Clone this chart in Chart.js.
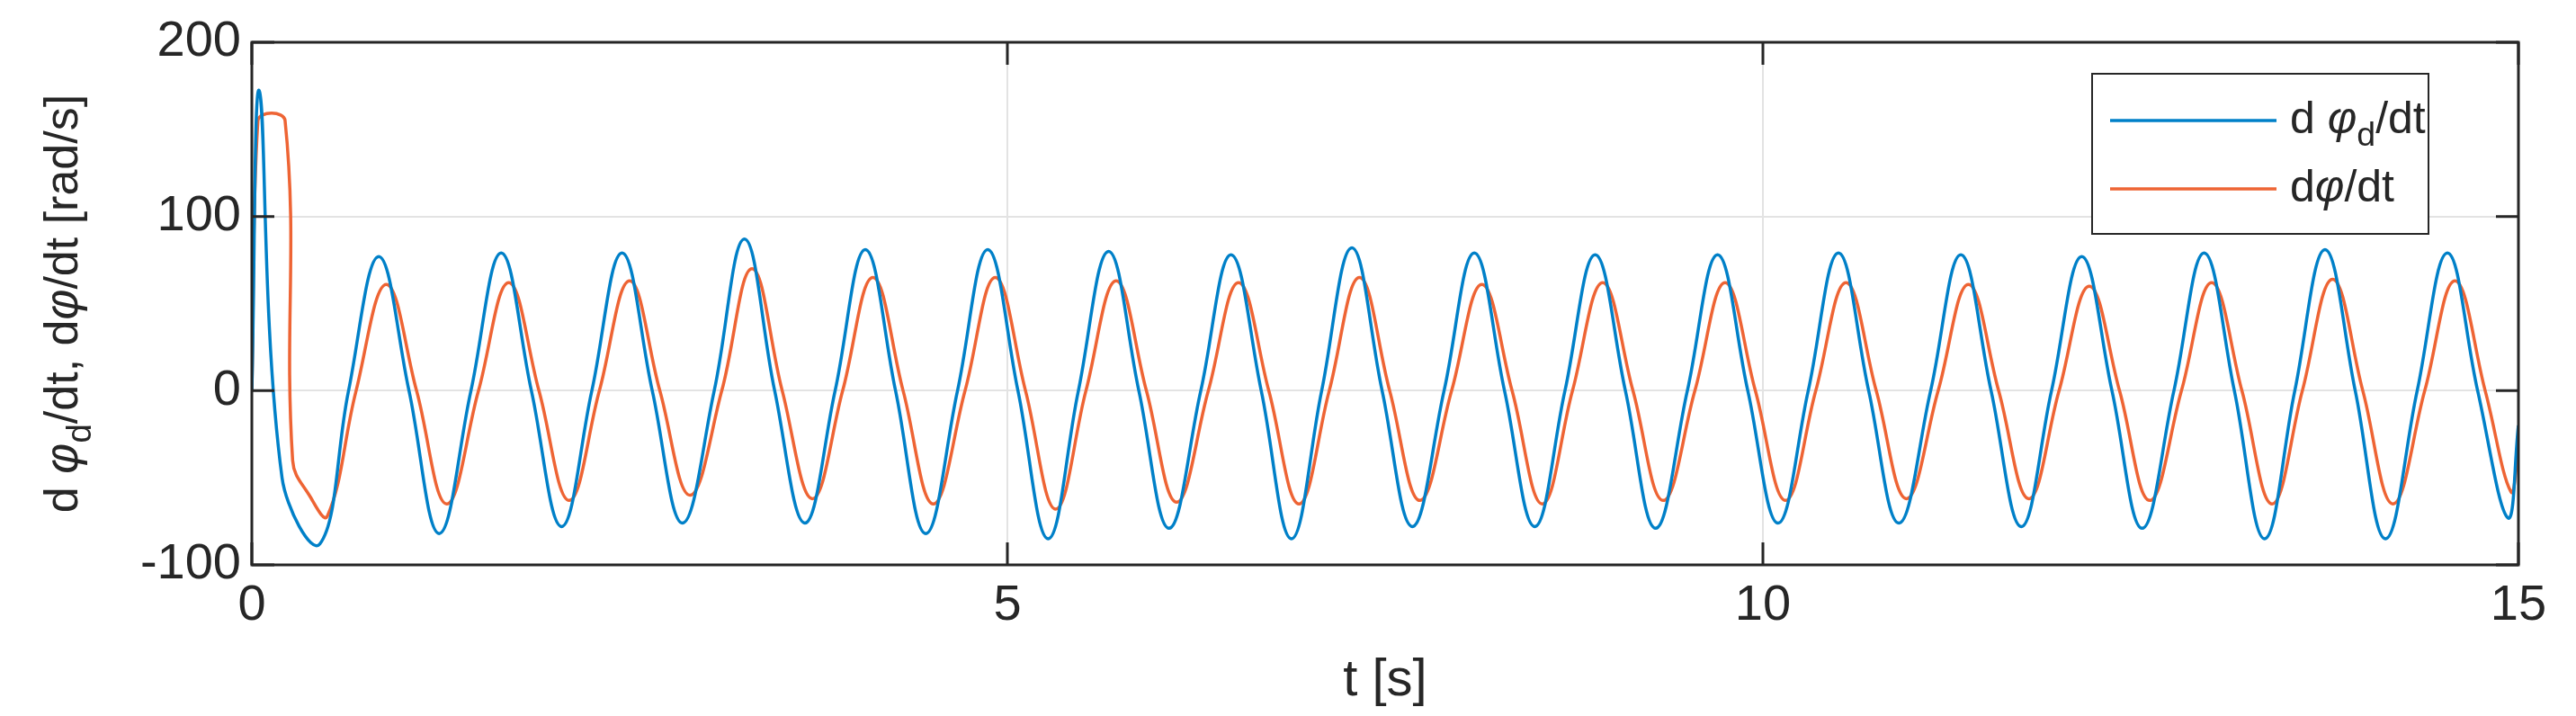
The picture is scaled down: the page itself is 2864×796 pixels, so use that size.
<!DOCTYPE html>
<html>
<head>
<meta charset="utf-8">
<script src="https://cdn.jsdelivr.net/npm/chart.js@4"></script>
<style>html,body{margin:0;padding:0;background:#fff;}#wrap{width:2864px;height:796px;}</style>
</head>
<body>
<div id="wrap"><canvas id="c" width="2864" height="796"></canvas></div>
<script>
// desired angular velocity (blue), read at peaks / zero crossings / troughs
const tDes = [0,0.05,0.2,0.45,0.64,0.84,1.04,1.24,1.45,1.65,1.85,2.05,2.25,2.45,2.65,2.85,3.06,3.26,3.46,3.66,3.86,4.06,4.26,4.46,4.67,4.87,5.07,5.27,5.47,5.67,5.87,6.07,6.28,6.48,6.68,6.88,7.08,7.28,7.48,7.68,7.89,8.09,8.29,8.49,8.69,8.89,9.09,9.29,9.50,9.70,9.90,10.10,10.30,10.50,10.70,10.90,11.11,11.31,11.51,11.71,11.91,12.11,12.31,12.51,12.72,12.92,13.12,13.32,13.52,13.72,13.92,14.12,14.33,14.53,14.73,14.93,15.0];
const vDes = [0,172,-50,-88,0,77,0,-82,0,79,0,-78,0,79,0,-76,0,87,0,-76,0,81,0,-82,0,81,0,-85,0,80,0,-79,0,78,0,-85,0,82,0,-78,0,79,0,-78,0,78,0,-79,0,78,0,-76,0,79,0,-76,0,78,0,-78,0,77,0,-79,0,79,0,-85,0,81,0,-85,0,79,0,-73,-20];
// actual angular velocity (orange)
const tAct = [0,0.04,0.22,0.27,0.38,0.50,0.69,0.89,1.09,1.29,1.50,1.70,1.90,2.10,2.30,2.50,2.70,2.90,3.11,3.31,3.51,3.71,3.91,4.11,4.31,4.51,4.72,4.92,5.12,5.32,5.52,5.72,5.92,6.12,6.33,6.53,6.73,6.93,7.13,7.33,7.53,7.73,7.94,8.14,8.34,8.54,8.74,8.94,9.14,9.34,9.55,9.75,9.95,10.15,10.35,10.55,10.75,10.95,11.16,11.36,11.56,11.76,11.96,12.16,12.36,12.56,12.77,12.97,13.17,13.37,13.57,13.77,13.97,14.17,14.38,14.58,14.78,14.95,15.0];
const vAct = [0,155,155,-40,-60,-72,0,61,0,-65,0,62,0,-63,0,63,0,-60,0,70,0,-62,0,65,0,-65,0,65,0,-68,0,63,0,-64,0,62,0,-65,0,65,0,-63,0,61,0,-65,0,62,0,-63,0,62,0,-63,0,62,0,-62,0,61,0,-62,0,60,0,-63,0,62,0,-65,0,64,0,-65,0,63,0,-58,-35];
const xTicks = [0,5,10,15];
const yTicks = [-100,0,100,200];

const BLUE = "rgb(0,128,200)", ORANGE = "rgb(238,100,52)";
const FONT = "Liberation Sans, Arial, sans-serif";

function pts(t, v){ return t.map((x,i)=>({x:x, y:v[i]})); }

// symbol with subscript, drawn left to right; returns end x
function drawParts(ctx, parts, x, y, size){
  parts.forEach(p=>{
    const s = p.sub ? size*0.75 : size;
    ctx.font = (p.it ? "italic " : "") + s + "px " + FONT;
    ctx.fillText(p.t, x, y + (p.sub ? size*0.35 : 0));
    x += ctx.measureText(p.t).width;
  });
  return x;
}

const decor = {
  id: "decor",
  afterDraw(chart){
    const ctx = chart.ctx, a = chart.chartArea;
    ctx.save();
    // box
    ctx.strokeStyle = "#262626"; ctx.lineWidth = 3;
    ctx.strokeRect(a.left, a.top, a.right-a.left, a.bottom-a.top);
    // inward ticks
    const xs = chart.scales.x, ys = chart.scales.y;
    ctx.lineWidth = 3;
    xTicks.forEach(v=>{ const px = xs.getPixelForValue(v);
      ctx.beginPath(); ctx.moveTo(px,a.bottom); ctx.lineTo(px,a.bottom-25);
      ctx.moveTo(px,a.top); ctx.lineTo(px,a.top+25); ctx.stroke(); });
    yTicks.forEach(v=>{ const py = ys.getPixelForValue(v);
      ctx.beginPath(); ctx.moveTo(a.left,py); ctx.lineTo(a.left+25,py);
      ctx.moveTo(a.right,py); ctx.lineTo(a.right-25,py); ctx.stroke(); });
    // legend
    const lx = 2326, ly = 82, lw = 374, lh = 178;
    ctx.fillStyle = "#fff"; ctx.fillRect(lx, ly, lw, lh);
    ctx.strokeStyle = "#262626"; ctx.lineWidth = 2; ctx.strokeRect(lx, ly, lw, lh);
    ctx.lineWidth = 3.5; ctx.textBaseline = "middle"; ctx.fillStyle = "#262626";
    const rows = [[BLUE, ly+52, [{t:"d "},{t:"φ",it:1},{t:"d",sub:1},{t:"/dt"}]],
                  [ORANGE, ly+128, [{t:"d"},{t:"φ",it:1},{t:"/dt"}]]];
    rows.forEach(r=>{
      ctx.strokeStyle = r[0]; ctx.beginPath(); ctx.moveTo(lx+20,r[1]); ctx.lineTo(lx+205,r[1]); ctx.stroke();
      drawParts(ctx, r[2], lx+220, r[1], 50);
    });
    // y title (rotated)
    ctx.translate(72, (a.top+a.bottom)/2); ctx.rotate(-Math.PI/2);
    ctx.textBaseline = "middle";
    const yParts = [{t:"d "},{t:"φ",it:1},{t:"d",sub:1},{t:"/dt, d"},{t:"φ",it:1},{t:"/dt [rad/s]"}];
    const YS = 52;
    let w = 0; yParts.forEach(p=>{ ctx.font=(p.it?"italic ":"")+(p.sub?YS*0.75:YS)+"px "+FONT; w+=ctx.measureText(p.t).width; });
    drawParts(ctx, yParts, -w/2, 0, YS);
    ctx.restore();
  }
};

new Chart("c", {
  type: "line",
  data: {
    datasets: [
      { label: "dφd/dt", data: pts(tDes, vDes), borderColor: BLUE, borderWidth: 3.5, pointRadius: 0, tension: 0.4 },
      { label: "dφ/dt", data: pts(tAct, vAct), borderColor: ORANGE, borderWidth: 3.5, pointRadius: 0, tension: 0.4 }
    ]
  },
  options: {
    responsive: false, animation: false, devicePixelRatio: 1,
    layout: { padding: { top: 47, right: 64, left: 0, bottom: 0 } },
    plugins: { legend: { display: false }, tooltip: { enabled: false } },
    scales: {
      x: {
        type: "linear", min: 0, max: 15,
        afterBuildTicks: s => { s.ticks = xTicks.map(v=>({value:v})); },
        afterFit: s => { s.height = 168; },
        grid: { color: "#e3e3e3", lineWidth: 2, drawTicks: false },
        border: { display: false },
        ticks: { font: { size: 56, family: FONT }, color: "#262626", padding: 12, maxRotation: 0 },
        title: { display: true, text: "t [s]", font: { size: 58, family: FONT }, color: "#262626", padding: { top: 0 } }
      },
      y: {
        min: -100, max: 200,
        afterBuildTicks: s => { s.ticks = yTicks.map(v=>({value:v})); },
        afterFit: s => { s.width = 280; },
        grid: { color: "#e3e3e3", lineWidth: 2, drawTicks: false },
        border: { display: false },
        ticks: { font: { size: 56, family: FONT }, color: "#262626", padding: 12 }
      }
    }
  },
  plugins: [decor]
});
</script>
</body>
</html>
